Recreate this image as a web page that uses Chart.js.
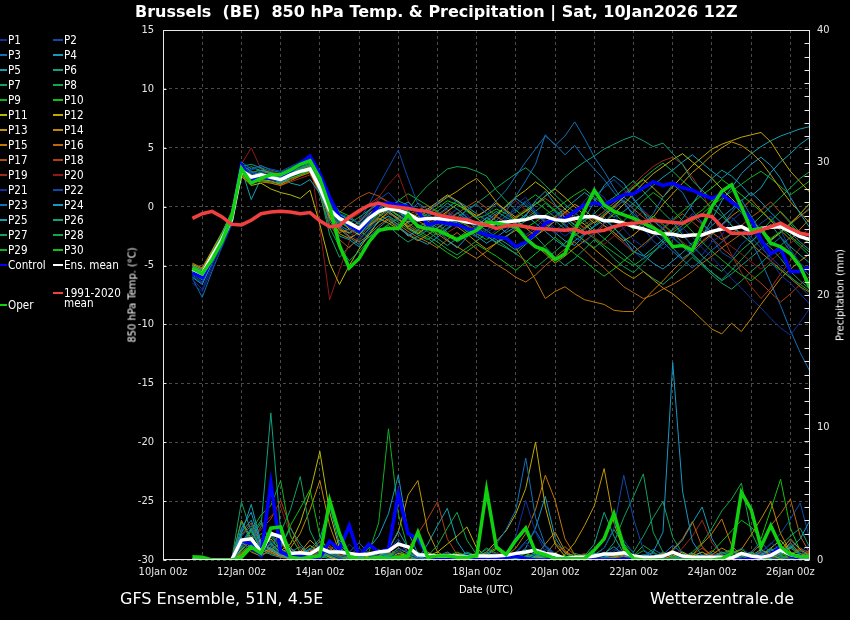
<!DOCTYPE html>
<html><head><meta charset="utf-8">
<script src="https://cdn.jsdelivr.net/npm/chart.js@4"></script>
<style>
html,body{margin:0;padding:0;background:#000;}
#wrap{position:relative;width:850px;height:620px;background:#000;overflow:hidden;font-family:'DejaVu Sans Condensed','DejaVu Sans',sans-serif;color:#fff;}
#c{position:absolute;left:0;top:0;}
.t{position:absolute;white-space:nowrap;line-height:1;}
.big{font-family:'DejaVu Sans',sans-serif;font-size:16px;}
.lg-line{position:absolute;width:10px;height:2px;}
.lg-text{position:absolute;font-size:11.6px;line-height:10px;white-space:nowrap;color:#fff;}
</style></head>
<body>
<div id="wrap">
<canvas id="c" width="850" height="620"></canvas>
<div class="t big" style="left:135px;top:4px;font-weight:bold;">Brussels&nbsp; (BE)&nbsp; 850 hPa Temp. &amp; Precipitation | Sat, 10Jan2026 12Z</div>
<div class="t" style="left:132px;top:295px;font-size:11px;transform:translate(-50%,-50%) rotate(-90deg);">850 hPa Temp. (°C)</div>
<div class="t" style="left:840px;top:295px;font-size:11px;transform:translate(-50%,-50%) rotate(-90deg);">Precipitation (mm)</div>
<div class="t" style="left:486px;top:589px;font-size:11px;transform:translate(-50%,-50%);">Date (UTC)</div>
<div class="t big" style="left:120px;top:599px;transform:translate(0,-50%);">GFS Ensemble, 51N, 4.5E</div>
<div class="t big" style="left:794px;top:599px;transform:translate(-100%,-50%);">Wetterzentrale.de</div>
<div id="legend"></div>
</div>
<script>
// ---- time axis (hours after 10Jan2026 00z) ----
const hours = [18,24,30,36,42,48,54,60,66,72,78,84,90,96,102,108,114,120,126,132,138,144,150,156,162,168,174,180,186,192,198,204,210,216,222,228,234,240,246,252,258,264,270,276,282,288,294,300,306,312,318,324,330,336,342,348,354,360,366,372,378,384,390,396];
const gridHours = [0,24,48,72,96,120,144,168,192,216,240,264,288,312,336,360,384];
const dateTickLabels = ['10Jan 00z','12Jan 00z','14Jan 00z','16Jan 00z','18Jan 00z','20Jan 00z','22Jan 00z','24Jan 00z','26Jan 00z'];
const tempTicks = [-30,-25,-20,-15,-10,-5,0,5,10,15];
const precipTicks = [0,10,20,30,40];

// ---- main temperature series (°C) ----
const meanTemp = [-5.3,-5.7,-4.2,-2.8,-1.1,3.1,2.5,2.7, 2.5,2.3,2.7,3.0,3.2,1.6,-0.3,-1.0, -1.4,-1.85,-1.0,-0.4,-0.15,-0.3,-0.6,-1.1, -1.0,-1.0,-1.1,-1.1,-1.3,-1.4,-1.55,-1.4, -1.3,-1.2,-1.1,-0.85,-0.85,-1.1,-1.2,-1.0, -0.85,-0.85,-1.2,-1.2,-1.4,-1.7,-1.9,-2.2, -2.3,-2.35,-2.5,-2.4,-2.4,-2.1,-1.9,-1.85, -1.7,-2.1,-1.85,-1.75,-1.7,-2.1,-2.55,-2.8];
const ctrlTemp = [-5.6,-6.0,-4.5,-3.0,-1.0,3.5,2.3,2.5, 2.4,2.3,3.0,3.7,4.3,2.8,0.8,-0.85, -1.55,-2.1,-1.1,0.15,0.3,0.15,0.0,-0.4, -1.55,-1.3,-1.4,-1.55,-1.85,-2.1,-2.4,-2.55, -2.7,-3.4,-3.0,-2.25,-1.4,-1.1,-1.0,-0.4, 0.15,0.3,0.15,0.55,1.0,1.1,1.6,2.1, 1.8,2.0,1.6,1.4,1.0,0.7,1.05,0.4, -0.15,-1.1,-2.8,-4.0,-3.55,-5.5,-5.5,-5.1];
const operTemp = [-5.25,-5.7,-4.5,-3.0,-0.9,3.25,2.0,2.4, 2.7,2.7,3.1,3.6,3.9,2.4,0.0,-3.3, -5.2,-4.4,-3.0,-2.0,-1.85,-1.85,-0.7,-1.7, -1.85,-2.0,-2.4,-2.8,-2.4,-2.0,-1.3,-1.4, -1.55,-1.7,-2.7,-3.4,-3.7,-4.5,-4.0,-2.0, -0.3,1.4,0.15,-0.4,-0.7,-1.0,-1.4,-1.8, -2.3,-3.4,-3.3,-3.7,-1.7,0.0,1.3,1.85, 0.0,-2.0,-1.85,-3.1,-3.4,-4.0,-5.1,-6.9];
const climTemp = [-1.0,-0.6,-0.4,-0.85,-1.5,-1.55,-1.15,-0.6, -0.45,-0.4,-0.45,-0.6,-0.5,-1.2,-1.7,-1.6, -0.9,-0.35,0.1,0.3,0.05,-0.05,-0.15,-0.3, -0.4,-0.7,-0.85,-1.0,-1.1,-1.4,-1.55,-1.85, -1.65,-1.55,-1.7,-1.85,-1.9,-1.95,-2.0,-1.9, -2.25,-2.1,-2.0,-1.7,-1.5,-1.4,-1.3,-1.15, -1.25,-1.35,-1.4,-1.0,-0.7,-0.85,-1.7,-2.25, -2.25,-2.25,-2.0,-1.7,-1.4,-1.85,-2.25,-2.4];

// ---- main precipitation series (mm) ----
const ctrlPrecip = [0,0,0,0,0,1.5,1.2,0.4, 5.8,0.6,0.3,0.4,0.1,0.2,1.4,0.8, 2.6,0.3,1.2,0.6,0.8,5.0,2.0,1.6, 0.3,0.1,0.2,0.1,0.3,0.1,0,0.1, 0.2,0.3,0.1,0,0,0.1,0,0, 0,0,0,0,0.1,0,0,0, 0,0,0,0,0,0,0,0, 0,0.1,0.2,0.4,1.0,0.3,0.1,0];
const operPrecip = [0.25,0.2,0,0,0,0.2,1.0,0.5, 2.4,2.5,0.2,0.1,0.2,0.3,4.5,2.0, 0.25,0.1,0.1,0.2,0.1,0.2,0.3,2.1, 0.2,0.3,0.3,0.2,0.2,0.3,5.3,1.0, 0.4,1.5,2.4,0.6,0.4,0.1,0.1,0.1, 0.1,0.75,1.6,3.5,1.0,0.1,0,0, 0,0,0,0,0,0,0.1,0.5, 5.1,3.8,1.0,2.6,1.0,0.4,0.25,0.25];
const meanPrecip = [0,0,0,0,0,1.5,1.6,0.6, 2.0,1.75,0.5,0.55,0.45,0.9,0.6,0.6, 0.5,0.4,0.45,0.6,0.7,1.2,1.0,0.4, 0.35,0.3,0.3,0.3,0.25,0.3,0.3,0.3, 0.35,0.5,0.6,0.75,0.5,0.4,0.1,0.2, 0.2,0.3,0.45,0.45,0.55,0.3,0.2,0.2, 0.3,0.6,0.3,0.2,0.2,0.2,0.2,0.15, 0.5,0.3,0.2,0.35,0.75,0.4,0.25,0.25];

// ---- ensemble member temperatures (°C) ----
const tP01 = [-6.2,-7.0,-5.0,-3.2,-1.5,3.6,2.8,3.0, 2.6,2.2,3.0,3.4,3.8,2.5,0.5,-0.8, -1.8,-2.6,-1.5,-0.2,0.4,-0.5,-1.2,-0.9, -1.5,-2.2,-1.8,-1.0,-0.6,-1.9,-2.6,-2.0, -1.1,0.2,0.8,-0.4,-1.5,-2.3,-1.8,-0.7, 0.5,1.4,0.8,-0.6,-1.9,-2.8,-3.4,-2.6, -1.8,-0.9,-2.2,-3.5,-4.1,-3.0,-2.4,-1.2, -0.5,-1.8,-3.2,-4.6,-5.8,-6.5,-7.4,-8.3];
const tP02 = [-5.8,-6.4,-4.6,-2.9,-0.8,3.3,2.9,2.4, 2.8,2.5,3.2,3.6,4.0,2.2,0.3,-0.6, -0.9,-1.4,-0.5,0.6,1.2,0.3,-0.8,-1.3, -0.7,0.4,-0.3,-1.2,-0.9,-1.5,-0.6,0.2, -0.5,-1.6,-2.4,-1.8,-0.9,-0.4,-1.5,-2.6, -3.1,-2.2,-1.4,-0.3,0.6,-0.2,-1.8,-2.9, -3.6,-2.8,-1.5,-0.6,-1.3,-2.7,-3.9,-4.4, -3.2,-2.5,-1.4,-0.8,-2.0,-3.6,-4.8,-5.5];
const tP03 = [-5.5,-6.0,-4.4,-3.0,-1.2,3.8,3.2,3.5, 3.1,2.9,3.3,3.7,4.2,2.0,-0.4,-1.6, -2.0,-1.6,-0.7,-0.1,-0.4,-1.2,-0.5,0.3, -0.2,-0.8,-1.6,-1.1,-0.3,0.2,-0.6,-1.2, -0.4,0.9,2.2,3.6,6.1,5.2,6.0,7.2, 5.8,4.2,3.0,1.6,0.4,-0.8,-1.5,-0.6, 0.8,1.9,1.2,-0.3,-1.4,-2.2,-1.6,-0.5, 0.6,-0.8,-2.1,-3.3,-2.6,-3.8,-5.0,-5.9];
const tP04 = [-6.0,-6.6,-4.8,-3.3,-1.4,3.5,3.0,2.6, 2.4,2.0,2.5,2.9,3.3,1.4,-1.2,-2.5, -2.8,-3.4,-2.2,-1.3,-0.8,-1.6,-2.5,-2.0, -1.4,-2.0,-2.8,-3.5,-2.6,-1.8,-0.9,-1.5, -2.2,-1.7,-0.8,0.5,1.3,0.2,-0.9,-1.6, -1.0,0.4,1.8,2.6,2.0,0.7,-0.5,-1.8, -2.6,-3.5,-4.4,-3.8,-2.5,-1.1,0.5,1.6, 2.8,3.6,4.2,3.5,2.4,0.8,-0.6,-1.8];
const tP05 = [-5.0,-5.4,-4.1,-2.5,-0.6,2.9,2.2,3.1, 2.9,2.6,2.0,1.8,2.3,1.1,-0.2,-0.7, -1.0,-1.4,-0.3,0.2,-0.5,-0.1,0.4,-0.4, -1.2,-1.8,-1.3,-0.5,-1.1,-1.9,-2.5,-3.0, -2.6,-1.8,-1.2,-0.6,-1.4,-2.2,-2.9,-3.3, -2.4,-1.6,-0.9,-1.8,-2.7,-3.8,-4.2,-3.5, -2.8,-1.9,-1.0,0.2,1.5,2.4,3.1,2.6, 1.8,0.9,1.6,2.9,3.8,4.5,5.3,5.9];
const tP06 = [-5.6,-6.2,-4.5,-2.6,-0.9,3.4,3.6,3.3, 2.7,2.4,2.9,3.2,3.5,1.9,0.2,-1.3, -1.6,-2.1,-1.8,-0.9,-0.3,0.5,0.1,-0.6, -0.8,-0.4,0.3,-0.2,-0.9,-1.5,-1.0,-0.4, -0.9,-1.4,-0.7,0.2,0.9,1.6,2.5,3.2, 3.8,4.3,4.9,5.3,5.7,6.0,5.6,5.1, 5.4,4.5,3.6,2.2,1.4,0.6,-0.5,-1.6, -2.4,-3.0,-2.2,-1.5,-2.6,-3.4,-4.1,-4.8];
const tP07 = [-5.2,-5.9,-4.3,-2.7,-1.0,3.0,2.6,2.9, 2.5,2.3,2.9,3.3,3.6,1.0,-1.8,-3.4, -4.6,-3.8,-2.9,-2.2,-1.6,-2.4,-3.0,-2.5, -2.0,-1.4,-2.2,-3.0,-2.5,-1.7,-2.4,-3.1, -3.5,-4.0,-3.2,-2.5,-3.4,-4.3,-5.0,-4.4, -3.6,-2.8,-3.5,-4.4,-5.1,-5.6,-4.8,-3.9, -3.0,-2.2,-3.1,-4.0,-4.8,-5.6,-6.2,-5.4, -4.5,-3.6,-2.8,-3.5,-4.4,-5.5,-6.3,-7.0];
const tP08 = [-5.4,-5.8,-4.0,-2.4,-0.7,3.2,2.1,2.5, 2.3,2.1,2.6,2.8,3.1,1.6,-0.5,-1.4, -1.7,-2.3,-1.5,-0.6,-0.2,-0.8,-0.3,0.9, 1.8,2.5,3.2,3.4,3.3,3.0,2.6,1.4, 0.5,-0.3,-1.0,-0.4,0.3,-0.4,-1.1,-1.8, -1.2,-0.6,0.2,0.8,1.5,2.2,1.3,0.4, -0.5,-1.3,-2.4,-3.3,-4.2,-4.9,-5.5,-4.6, -3.7,-3.0,-2.1,-1.2,-0.4,-1.3,-2.2,-3.0];
const tP09 = [-5.1,-5.5,-3.9,-2.3,-0.4,3.1,2.4,2.6, 2.6,2.5,3.0,3.5,3.9,2.3,0.4,-0.9, -1.3,-1.9,-1.2,-0.5,0.2,-0.3,-0.9,-1.5, -1.9,-2.4,-1.8,-1.2,-1.6,-2.3,-2.8,-2.2, -1.6,-1.0,-0.3,0.4,-0.2,-0.9,-1.6,-2.3, -2.9,-3.5,-2.8,-2.0,-1.2,-0.4,0.5,1.2, 0.6,-0.3,-1.2,-2.1,-3.0,-3.8,-4.5,-5.2, -5.8,-6.3,-5.6,-4.8,-5.4,-6.0,-6.6,-7.2];
const tP10 = [-5.7,-6.1,-4.6,-3.1,-1.3,2.8,2.0,2.2, 2.1,2.0,2.4,2.7,3.0,1.8,0.6,-0.4, -0.8,-1.5,-0.9,-0.2,0.4,0.0,-0.4,-1.0, -0.6,-0.1,0.5,0.2,-0.4,-1.0,-0.7,-0.2, -0.6,-1.2,-1.8,-1.3,-0.7,-0.2,0.4,1.0, 1.5,0.8,0.1,-0.6,-1.3,-1.9,-1.4,-0.8, -1.5,-2.2,-1.6,-0.9,-0.3,0.5,1.2,0.4, -0.5,-1.3,-2.0,-2.7,-2.1,-1.5,-2.4,-3.2];
const tP11 = [-5.3,-5.9,-4.3,-2.7,-1.0,2.6,1.8,2.0, 1.5,1.2,1.0,0.7,1.4,-1.5,-4.8,-6.6, -5.0,-3.6,-2.4,-1.2,-0.4,-1.0,-1.8,-2.3, -1.7,-1.0,-0.4,0.2,-0.3,-1.0,-1.6,-0.8, 0.1,0.8,1.4,2.1,1.5,0.6,-0.2,-0.9, -1.5,-2.2,-1.4,-0.6,0.2,1.1,2.0,2.8, 3.4,4.0,4.5,3.8,3.1,2.4,1.5,0.7, -0.2,-1.1,-2.0,-2.8,-2.2,-1.4,-0.6,0.3];
const tP12 = [-4.9,-5.3,-3.8,-2.3,-0.5,3.0,2.3,2.8, 2.4,2.2,2.6,3.0,3.4,2.1,0.1,-1.2, -1.9,-2.4,-1.6,-1.0,-1.4,-1.9,-1.3,-0.6, -0.2,0.4,1.0,0.5,-0.2,-0.8,-0.3,0.3, -0.3,-0.9,-0.4,0.2,0.9,1.5,0.8,0.0, -0.7,-1.4,-0.8,0.0,0.8,1.6,2.3,1.6, 0.8,1.7,2.6,3.5,4.2,4.9,5.3,5.6, 5.9,6.1,6.3,5.5,4.2,3.0,2.1,1.2];
const tP13 = [-5.2,-5.7,-4.1,-2.6,-0.9,3.3,2.7,2.3, 2.2,1.9,2.4,2.7,3.1,1.3,-0.9,-2.3, -2.7,-2.2,-1.6,-0.8,-0.2,-0.7,-1.3,-0.9, -0.4,0.2,0.8,1.3,1.9,2.4,1.5,0.4, -0.4,-1.1,-1.8,-2.5,-1.9,-1.2,-0.5,0.2, -0.3,-1.0,-1.6,-2.2,-2.9,-2.4,-1.7,-0.9, 0.2,1.1,2.0,2.9,3.6,4.4,5.0,5.5, 5.2,4.6,3.8,2.7,1.5,0.4,-0.5,-1.4];
const tP14 = [-4.8,-5.2,-3.7,-2.2,-0.6,2.7,2.0,2.4, 2.3,2.4,2.8,3.1,3.3,1.5,-0.8,-2.0, -2.2,-1.7,-1.0,-0.6,-1.2,-1.8,-2.4,-2.9, -2.4,-1.8,-1.2,-1.7,-2.3,-3.0,-3.6,-3.1, -2.5,-2.0,-2.6,-3.3,-4.0,-4.8,-4.2,-3.5, -2.9,-3.6,-4.3,-5.0,-5.6,-6.1,-5.5,-6.2, -6.9,-7.4,-8.1,-8.8,-9.6,-10.4,-10.8,-9.9, -10.6,-9.5,-8.3,-7.2,-6.1,-5.3,-4.6,-4.0];
const tP15 = [-5.0,-5.5,-4.0,-2.5,-0.8,2.9,2.4,2.1, 2.0,1.8,2.2,2.6,2.9,1.2,-1.0,-2.2, -1.9,-1.3,-0.6,0.0,-0.5,-1.1,-1.7,-1.2, -1.7,-2.3,-2.9,-3.4,-3.9,-4.4,-3.8,-3.1, -2.6,-3.5,-4.8,-6.2,-7.8,-7.2,-6.8,-7.4, -7.9,-8.1,-8.3,-8.8,-8.9,-8.9,-8.0,-7.1, -6.3,-5.4,-4.6,-3.8,-3.0,-2.3,-1.5,-0.8, -0.2,0.6,-0.3,-1.2,-2.0,-2.8,-1.9,-1.0];
const tP16 = [-5.4,-5.8,-4.2,-2.8,-1.1,3.1,2.6,3.0, 2.8,2.5,2.8,3.2,3.5,1.7,-0.5,-1.8, -2.5,-3.0,-2.4,-1.6,-1.0,-1.5,-2.1,-2.6, -3.0,-3.5,-2.8,-2.2,-2.9,-3.6,-4.3,-4.9, -5.4,-6.0,-6.4,-5.8,-5.0,-4.3,-3.6,-3.0, -3.7,-4.5,-5.2,-6.0,-6.8,-7.3,-7.8,-7.5, -7.0,-6.6,-6.1,-5.5,-4.8,-4.2,-3.5,-2.9, -2.3,-3.1,-3.9,-4.6,-5.3,-6.1,-6.8,-7.3];
const tP17 = [-5.1,-5.6,-4.0,-2.4,-0.7,2.8,2.2,2.6, 2.5,2.3,2.7,3.0,3.2,1.9,0.2,-0.5, 0.2,0.8,1.2,0.9,0.4,-0.2,-0.7,-0.3, 0.1,-0.5,-1.1,-0.6,0.0,0.5,-0.1,-0.8, -1.4,-1.0,-0.4,0.2,0.7,0.1,-0.5,-1.2, -1.8,-1.3,-0.7,-0.1,0.5,-0.2,-0.9,-1.6, -2.3,-2.0,-1.4,-0.8,-1.5,-2.2,-2.8,-2.3, -1.6,-0.9,-0.3,0.4,-0.5,-1.4,-0.8,-0.2];
const tP18 = [-5.5,-6.1,-4.5,-3.0,-1.3,2.9,2.5,2.3, 2.1,1.9,2.3,2.6,2.9,1.0,-1.5,-2.8, -3.5,-2.6,-1.7,-1.1,-0.6,-1.0,-1.6,-2.1, -1.8,-1.2,-0.5,-1.0,-1.6,-2.1,-1.5,-0.9, -1.3,-1.9,-2.6,-2.0,-1.4,-0.8,-1.5,-2.2, -2.9,-2.3,-1.6,-2.4,-3.1,-3.9,-3.2,-2.5, -1.9,-1.2,-0.6,-1.3,-2.0,-2.7,-3.5,-4.2, -5.0,-5.8,-6.5,-7.3,-8.1,-7.4,-6.6,-5.9];
const tP19 = [-5.3,-5.9,-4.4,-2.9,-1.2,2.5,2.0,2.2, 2.0,1.8,2.1,2.4,2.7,1.4,-0.7,-1.5, -1.1,-0.6,0.2,0.8,0.4,-0.3,-0.9,-0.5, -1.0,-1.6,-2.2,-1.7,-1.1,-0.6,-1.2,-1.9, -1.4,-0.8,-0.2,-0.7,-1.3,-0.9,-0.4,-1.0, -1.5,-1.0,-0.4,0.3,1.1,1.9,2.7,3.4, 3.9,4.2,3.6,2.5,1.2,-0.6,-2.4,-4.1, -5.6,-6.8,-7.8,-6.9,-5.7,-4.6,-3.5,-2.6];
const tP20 = [-5.0,-5.4,-3.9,-2.3,-0.5,3.6,5.0,3.2, 3.0,2.8,3.1,3.4,4.2,-1.8,-7.9,-5.4, -3.0,-1.2,-0.4,0.8,1.9,2.8,0.5,-0.7, -1.3,-0.8,-0.2,-0.9,-1.5,-2.0,-1.4,-0.7, -0.2,0.5,-0.3,-1.0,-1.7,-1.2,-0.6,-1.3, -1.9,-2.6,-3.2,-2.5,-1.8,-1.1,-0.4,-1.0, -1.6,-2.3,-3.0,-3.6,-2.9,-2.2,-2.8,-3.4, -4.0,-4.7,-5.3,-4.6,-3.9,-3.1,-2.5,-1.8];
const tP21 = [-6.5,-7.2,-5.3,-3.5,-1.6,3.4,2.7,2.9, 2.6,2.4,2.8,3.1,3.4,1.8,-0.4,-1.5, -2.2,-2.9,-2.0,-1.1,-0.5,-1.0,-1.7,-2.3, -1.9,-1.2,-0.6,-1.3,-2.0,-2.6,-2.0,-1.4, -0.8,-0.2,0.5,-0.3,-1.1,-1.8,-2.5,-1.9, -1.2,-0.5,-1.3,-2.2,-3.0,-3.8,-4.5,-3.9, -3.2,-2.5,-1.8,-2.6,-3.5,-4.3,-5.2,-6.1, -6.9,-7.8,-8.6,-9.5,-10.3,-10.9,-9.8,-8.6];
const tP22 = [-5.9,-6.5,-4.8,-3.1,-1.2,3.6,3.1,3.4, 3.2,3.0,3.4,3.8,4.1,2.4,0.1,-1.2, -1.8,-1.2,0.2,1.8,3.3,4.8,2.4,0.2, -0.6,-1.3,-0.8,-0.2,-0.9,-1.6,-2.2,-1.7, -1.0,-0.4,0.3,-0.5,-1.2,-2.0,-1.4,-0.7, 0.1,0.9,1.6,2.3,1.5,0.6,-0.3,-1.1, -1.8,-2.6,-3.3,-4.0,-3.2,-2.4,-1.6,-0.9, -1.7,-2.6,-3.5,-4.3,-5.1,-5.9,-6.8,-7.6];
const tP23 = [-6.1,-7.7,-5.5,-3.4,-1.4,3.3,2.6,2.8, 2.7,2.5,2.9,3.3,3.6,2.0,-0.2,-1.3, -1.6,-2.2,-1.4,-0.6,-0.1,-0.8,-1.4,-0.8, -0.3,0.3,0.9,0.4,-0.3,-0.9,-0.3,0.5, 1.4,2.6,3.8,4.9,6.0,5.3,4.4,5.2, 4.1,3.2,2.3,1.2,0.3,-0.6,-1.4,-2.2, -3.0,-3.8,-4.5,-5.2,-4.5,-3.7,-3.0,-2.3, -1.6,-2.9,-4.6,-6.5,-8.4,-10.5,-12.4,-14.0];
const tP24 = [-5.6,-6.0,-4.4,-2.8,-1.0,3.4,2.8,2.6, 2.4,2.2,2.6,2.9,3.2,1.6,-0.3,-1.9, -2.6,-3.2,-2.6,-1.8,-1.1,-1.7,-2.3,-2.8, -3.2,-2.6,-1.9,-1.3,-1.9,-2.5,-3.1,-2.6, -2.0,-1.3,-0.7,-1.4,-2.1,-2.8,-3.4,-2.9, -2.3,-1.7,-1.1,-1.8,-2.6,-3.3,-4.1,-4.8, -5.3,-4.6,-3.9,-3.1,-2.4,-1.6,-0.9,-0.2, 0.5,1.2,0.4,-0.5,-1.3,-2.2,-3.0,-3.7];
const tP25 = [-5.4,-5.9,-4.3,-2.7,-0.9,3.2,0.6,2.4, 2.6,2.4,2.7,3.1,3.4,1.9,-0.1,-1.0, -1.5,-2.1,-1.3,-0.5,0.1,-0.5,-1.1,-1.7, -1.3,-0.7,-0.1,0.5,0.0,-0.6,-1.2,-0.6, 0.0,0.7,0.1,-0.6,-1.3,-0.8,-0.2,0.5, 1.2,0.6,-0.2,-0.9,-0.4,0.3,1.0,1.8, 2.5,3.1,3.8,4.4,3.7,3.0,2.4,3.1, 3.8,4.5,5.1,5.6,6.0,6.3,6.6,6.8];
const tP26 = [-5.7,-6.2,-4.6,-3.0,-1.2,3.0,2.5,2.7, 2.4,2.3,2.7,3.1,3.3,1.5,-0.6,-1.7, -2.3,-1.8,-1.1,-0.5,0.1,-0.4,-1.0,-1.6, -2.1,-2.7,-3.3,-2.7,-2.1,-1.5,-2.0,-2.6, -3.1,-3.7,-3.1,-2.4,-1.8,-1.2,-1.9,-2.5, -1.9,-1.3,-0.6,0.1,0.8,0.2,-0.5,-1.2, -1.9,-2.6,-3.4,-4.1,-4.9,-5.6,-6.3,-5.7, -5.0,-4.3,-3.6,-2.9,-2.2,-1.5,-0.8,-0.1];
const tP27 = [-5.3,-5.8,-4.2,-2.6,-0.8,3.1,2.7,3.3, 3.0,2.7,3.1,3.5,3.8,1.2,-2.4,-4.3, -3.4,-2.8,-1.9,-1.3,-0.8,-1.3,-1.9,-2.4, -2.8,-2.2,-1.5,-0.9,-0.3,0.3,0.9,1.6, 2.2,2.8,3.3,2.6,1.8,1.0,0.2,-0.5, -1.2,-2.0,-2.7,-3.4,-4.1,-4.8,-5.5,-6.1, -6.6,-5.9,-5.1,-4.3,-5.0,-5.8,-6.5,-7.0, -6.3,-5.5,-4.8,-4.0,-3.3,-2.6,-3.4,-4.2];
const tP28 = [-5.5,-6.0,-4.5,-2.9,-1.1,3.0,3.4,3.0, 2.8,2.6,3.0,3.3,3.6,1.8,-0.1,-1.1, -1.4,-0.9,-0.3,0.3,-0.2,-0.8,-1.4,-2.0, -2.5,-3.0,-3.6,-4.1,-3.5,-2.9,-2.3,-2.8, -3.4,-4.0,-4.6,-5.2,-4.5,-3.8,-3.1,-2.4, -1.8,-1.1,-0.4,0.3,1.0,1.7,2.4,3.1, 3.7,3.0,2.2,1.5,0.7,-0.1,-0.8,-1.6, -2.3,-1.6,-0.8,0.0,0.8,1.6,2.4,3.0];
const tP29 = [-5.0,-5.5,-3.9,-2.3,-0.6,3.1,2.4,2.7, 2.5,2.3,2.8,3.2,3.4,2.0,0.6,-0.6, -1.2,-1.8,-1.2,-0.6,-0.1,0.5,1.1,0.6, 0.1,-0.4,-1.0,-1.5,-2.1,-2.6,-2.0,-1.4, -0.8,-0.2,0.4,1.0,0.4,-0.3,-0.9,-1.5, -2.1,-2.7,-3.3,-3.9,-4.5,-5.0,-4.4,-3.8, -3.2,-2.5,-1.9,-1.2,-0.6,0.1,0.7,1.3, 1.9,2.5,3.0,2.4,1.7,1.0,1.6,2.2];
const tP30 = [-5.6,-6.1,-4.6,-3.0,-1.2,3.3,2.9,3.1, 2.9,2.7,3.1,3.4,3.7,2.2,0.1,-1.0, -1.5,-2.0,-2.6,-2.1,-1.5,-1.0,-1.6,-2.2, -2.7,-3.3,-3.9,-4.4,-3.8,-3.2,-3.7,-4.2, -4.8,-5.4,-4.7,-4.0,-3.3,-2.6,-3.3,-4.0, -4.6,-5.3,-5.9,-5.3,-4.6,-3.9,-3.2,-2.5, -1.8,-1.1,-0.4,0.3,1.0,1.6,2.3,1.7, 1.0,0.3,-0.4,-1.1,-1.8,-2.5,-3.2,-3.9];

// ---- ensemble member precipitation (mm) ----
const rP01 = [0,0,0,0,0,1.2,0.8,0.3, 1.5,0.6,0.2,0,0.3,0.8,0.4,0.1, 0,0.2,0.5,0.3,0.1,0.6,1.1,0.4, 0.1,0,0,0.2,0.4,0.1,0,0.3, 0.5,1.8,4.5,2.1,0.6,0.2,0,0, 0,0.1,0.3,0.8,0.5,0.2,0,0, 0,0,0.2,0.1,0,0,0.3,0.6, 0.2,0,0.5,1.3,0.8,0.2,0.4,0.9];
const rP02 = [0,0,0,0,0,0.9,1.5,0.6, 2.2,0.8,0.3,0.1,0.5,1.2,0.6,0.2, 0.4,0.9,0.3,0.1,0,0.2,0.4,0.1, 0,0.1,0.3,0.2,0,0,0.2,0.5, 0.2,0,0,0.4,1.1,0.5,0.1,0, 0,0.3,0.9,2.4,6.4,3.1,0.8,0.2, 0,0.1,0,0,0.2,0.5,0.1,0, 0,0.3,0.7,0.2,0,0.1,0.6,1.2];
const rP03 = [0,0,0,0,0,1.8,2.6,0.9, 1.2,0.5,0.2,0.4,0.9,0.3,0.6,1.0, 0.3,0.1,0,0.2,0.5,1.4,0.6,0.2, 0,0,0.1,0.3,0.1,0,0.4,1.2, 2.3,3.8,7.7,3.2,1.1,0.4,0.1,0, 0,0,0.2,0.1,0,0,0.3,0.5, 0.2,0,0,0.1,0.4,0.2,0,0, 0.1,0.6,1.4,0.5,0.2,0,0,0.3];
const rP04 = [0,0,0,0,0,2.4,3.6,1.1, 0.8,0.4,0.9,0.3,0.1,0.5,1.3,0.6, 0.2,0,0.1,0.3,0.8,2.2,0.9,0.3, 0.1,0,0,0.2,0.5,0.3,0.1,0, 0,0.3,0.8,0.4,0.1,0,0,0.1, 0.2,0.5,0.3,0.1,0,0,0.2,0.6, 2.1,14.9,5.2,1.4,0.3,0,0.1,0, 0,0.2,0.5,0.1,0,0,0.2,0.4];
const rP05 = [0,0,0,0,0,2.0,4.2,1.3, 0.9,0.3,0.1,0.5,0.8,1.6,4.1,1.2, 0.4,0.1,0,0.2,0.3,0.9,0.5,0.2, 0.1,0.3,0.6,0.2,0,0,0.1,0.4, 0.3,0.1,0,0.2,0.6,0.3,0,0, 0,0.2,0.5,1.0,0.4,0.1,0,0, 0,0.1,0.3,0.2,0,0.2,0.6,0.3, 0.1,0,0.3,0.8,0.4,0.9,1.6,3.0];
const rP06 = [0,0,0,0,0,1.1,2.3,0.7, 1.9,1.0,2.4,1.2,0.4,0.2,0.5,0.3, 0.1,0,0.2,0.5,0.3,0.1,0,0.2, 0.4,0.2,0,0,0.1,0.3,0.6,0.2, 0,0,0.2,0.4,0.1,0,0,0.1, 0.3,1.2,3.6,1.8,0.5,0.1,0,0, 0,0,0.2,0.5,0.3,0.1,0,0, 0.2,0.6,0.3,0.1,0.5,1.1,0.4,0.2];
const rP07 = [0,0,0,0,0,2.9,1.4,0.6, 1.0,2.1,3.8,6.3,2.2,0.7,0.3,0.1, 0,0.2,0.4,0.2,0,0,0.3,0.6, 0.2,0,0,0.1,0.2,0.4,0.1,0, 0,0.1,0.3,0.1,0,0,0.2,0.5, 0.3,0.1,0.4,1.3,3.2,4.8,6.5,2.1, 0.6,0.2,0,0,0.1,0.3,0.1,0, 0,0.1,0.4,0.9,0.3,0.1,0,0.2];
const rP08 = [0,0,0,0,0,0.7,1.6,2.8, 1.3,0.5,0.2,0.1,0.4,0.9,0.3,0.1, 0,0,0.1,0.3,0.6,0.2,0,0, 0.3,1.1,2.4,3.6,1.5,0.4,0.1,0, 0,0.2,0.5,0.2,0,0,0.1,0.3, 0.1,0,0,0.2,0.6,0.3,0.1,0, 0,0,0.3,0.1,0,0.2,0.5,0.8, 0.3,0.1,0,0.4,1.0,0.5,0.2,0.1];
const rP09 = [0,0,0,0,0,1.0,2.2,3.4, 4.1,6.0,1.8,0.6,0.3,0.1,0.4,0.8, 0.5,0.2,0,0.1,0.3,0.7,0.3,0.1, 0,0.2,0.1,0,0,0.3,0.9,0.5, 0.2,0,0.1,0.4,0.2,0,0,0, 0.1,0.4,0.2,0,0,0.3,1.1,0.6, 0.2,0,0,0.1,0.3,0.1,0,0, 0.2,0.5,0.2,0,0.1,0.4,0.7,0.3];
const rP10 = [0,0,0,0,0,0.6,1.2,2.0, 1.4,0.9,2.6,3.9,5.3,1.8,0.5,0.2, 0.1,0,0,0.2,0.4,0.2,0.1,0, 0,0.1,0.3,0.6,0.3,0.1,0,0, 0.1,0.4,0.2,0,0,0.1,0.3,0.1, 0,0,0.2,0.5,0.2,0.1,0,0, 0,0.2,0.4,0.2,0,0,0.1,0.4, 0.8,0.3,0.1,0,0.3,0.6,0.2,0.1];
const rP11 = [0,0,0,0,0,0.4,1.1,0.8, 1.6,0.7,1.2,2.8,5.1,8.2,3.6,0.9, 0.3,0.1,0,0,0.2,0.5,0.3,0.1, 0.3,0.6,1.2,1.8,2.5,0.9,0.2,0, 0,0,0.1,0.3,0.1,0,0,0.2, 0.4,0.2,0,0,0.1,0.3,0.2,0, 0,0,0.1,0.3,0.6,0.2,0,0, 0.1,0.3,0.8,0.4,0.1,0,0.2,0.5];
const rP12 = [0,0,0,0,0,0.3,0.9,1.5, 0.7,0.3,0.1,0.5,1.1,0.6,0.2,0, 0,0.1,0.3,0.6,0.2,0,0,0.1, 0.2,0.4,0.1,0,0,0.2,0.6,1.4, 2.2,3.5,5.4,8.9,4.0,1.2,0.3,0.1, 0,0,0.1,0.2,0.5,0.3,0,0, 0.1,0.3,0.6,0.2,0,0,0.1,0.4, 0.2,0,0.3,0.9,1.5,0.6,0.2,0];
const rP13 = [0,0,0,0,0,0.8,1.7,0.5, 0.9,0.4,0.2,0.6,1.5,0.8,0.3,0.1, 0,0.2,0.5,0.3,0.8,2.1,4.9,6.0, 2.2,0.6,0.2,0,0.1,0.3,0.2,0, 0,0.1,0.3,0.2,0,0,0.4,1.3, 2.6,4.1,6.9,2.8,0.7,0.2,0,0, 0,0.1,0.2,0.5,0.2,0,0,0.1, 0.3,0.6,0.2,0.1,0.7,1.6,0.8,0.3];
const rP14 = [0,0,0,0,0,3.0,1.6,0.7, 1.2,0.6,0.9,2.0,3.8,6.0,2.6,0.6, 0.2,0,0.1,0.3,0.5,0.2,0,0, 0.1,0.3,0.2,0,0,0.2,0.5,0.9, 0.4,0.1,0,0.3,1.2,2.1,0.7,0.2, 0,0,0.2,0.5,0.3,0.1,0,0.1, 0.3,0.6,0.2,0,0.1,0.4,0.9,0.5, 0.8,1.9,3.1,4.4,2.0,0.6,0.2,0.1];
const rP15 = [0,0,0,0,0,1.4,0.6,0.3, 0.8,1.3,0.5,0.2,0.6,1.4,0.9,0.3, 0.1,0,0,0.2,0.4,0.1,0,0.3, 0.6,0.2,0,0.1,0.3,0.5,0.2,0.1, 0.3,0.9,2.0,3.8,6.4,4.5,1.6,0.4, 0.1,0,0,0.2,0.1,0,0,0.2, 0.5,0.2,0,0.4,1.2,2.0,3.1,1.1, 0.3,0.1,0,0.2,0.6,1.3,0.5,0.2];
const rP16 = [0,0,0,0,0,0.5,1.3,0.9, 0.6,0.2,0.1,0.3,0.7,1.0,0.4,0.1, 0,0.1,0.3,0.2,0,0,0.2,0.5, 0.2,0,0.1,0.4,0.2,0,0,0.1, 0.3,0.5,0.2,0.1,0.4,1.3,0.6,0.2, 0,0.2,0.5,0.3,0.1,0,0,0, 0.2,0.8,1.6,2.9,1.0,0.3,0.1,0, 0.2,0.5,1.2,2.6,3.5,4.6,1.8,0.5];
const rP17 = [0,0,0,0,0,1.9,2.8,1.0, 0.5,0.3,0.8,0.4,0.2,0.6,1.1,0.4, 0.1,0,0.2,0.4,0.9,0.3,0.1,0, 0,0.2,0.5,0.3,0.1,0,0.1,0.3, 0.6,0.2,0,0,0.2,0.5,1.0,0.4, 0.1,0,0.1,0.3,0.2,0,0,0.1, 0.4,0.2,0.1,0,0.3,0.7,0.3,0.1, 0,0.2,0.6,0.3,0.1,0.4,0.9,0.5];
const rP18 = [0,0,0,0,0,0.7,1.5,2.3, 3.1,4.5,2.5,0.8,0.3,0.1,0.5,0.2, 0,0,0.1,0.2,0.6,0.3,0.9,2.0, 3.1,4.4,1.6,0.4,0.1,0,0,0.2, 0.4,0.1,0,0.1,0.3,0.2,0,0, 0,0.2,0.4,0.1,0,0,0.1,0.3, 0.1,0,0.2,0.4,0.9,0.3,0.1,0, 0,0.1,0.3,0.6,0.2,0.1,0.4,0.7];
const rP19 = [0,0,0,0,0,0.3,0.8,1.6, 2.0,1.2,0.4,0.1,0.3,0.7,0.2,0, 0,0.1,0.3,0.1,0,0.2,0.6,0.3, 0.1,0,0.2,0.5,0.3,0.1,0,0, 0.1,0.3,0.6,0.2,0,0,0.1,0.2, 0.5,0.2,0,0.1,0.4,0.2,0,0, 0,0.2,0.9,1.8,3.0,1.3,0.4,0.1, 0,0.2,0.5,0.2,0,0.3,0.8,0.4];
const rP20 = [0,0,0,0,0,0.5,1.2,2.6, 3.3,4.0,1.9,0.5,0.2,0.4,1.0,0.5, 0.2,0,0,0.1,0.4,0.8,0.3,0.1, 0,0.1,0.3,0.2,0,0,0.2,0.6, 0.3,0.1,0,0.2,0.5,0.2,0,0, 0,0.1,0.3,0.6,0.2,0.1,0,0, 0.2,0.5,0.2,0,0.1,0.3,0.6,0.2, 0.1,0,0.2,0.5,0.3,0.1,0,0.2];
const rP21 = [0,0,0,0,0,1.5,0.7,0.2, 0.9,2.0,0.6,0.2,0.1,0.4,0.8,0.3, 1.2,0.5,0.1,0,0.2,0.6,0.3,0.1, 0,0.2,0.4,0.1,0,0.1,0.3,0.2, 0.1,0.5,1.3,0.6,0.2,0,0,0.1, 0.2,0,0.1,0.4,0.9,0.3,0.1,0, 0,0.1,0.3,0.1,0,0,0.2,0.5, 0.9,0.4,0.1,0.3,0.8,1.5,0.7,0.2];
const rP22 = [0,0,0,0,0,1.1,1.9,0.5, 1.3,0.4,0.2,0.7,0.3,0.1,0.5,0.9, 0.4,0.1,0,0.3,0.7,1.6,0.5,0.2, 0,0,0.2,0.5,0.2,0,0.1,0.3, 0.2,0,0,0.3,0.8,0.4,0.1,0, 0,0.1,0.3,0.6,1.5,0.5,0.1,0, 0,0.2,0.6,0.3,0.1,0,0,0.2, 0.4,0.2,0.6,1.2,2.0,3.1,4.3,1.5];
const rP23 = [0,0,0,0,0,1.6,1.0,0.4, 0.7,0.3,0.1,0.2,0.6,0.3,0.1,0.2, 0.6,1.3,0.5,0.2,0,0.1,0.3,0.1, 0,0.2,0.1,0,0,0.3,0.8,0.4, 0.1,0.6,1.4,2.2,1.0,0.3,0.1,0, 0,0,0.2,0.1,0,0,0.3,0.8, 0.4,1.1,0.5,0.2,0,0.1,0.3,0.2, 0,0.1,0.4,0.2,0.6,1.2,0.5,0.1];
const rP24 = [0,0,0,0,0,2.1,3.0,1.2, 0.8,0.4,0.2,0.1,0.5,1.1,0.4,0.2, 0.1,0.3,0.9,1.8,3.5,6.4,2.1,0.5, 0.2,0,0,0.1,0.3,0.2,0,0, 0.1,0.3,0.9,2.4,4.8,1.7,0.5,0.2, 0,0.1,0.3,0.2,0,0,0.1,0.2, 0.6,0.3,0.1,0,0.2,0.5,0.2,0, 0,0.2,0.7,0.4,0.1,0,0.3,0.6];
const rP25 = [0,0,0,0,0,1.3,2.4,0.8, 0.4,0.2,0.6,1.0,0.4,0.2,0.7,1.5, 0.6,0.2,0,0.1,0.3,0.2,0,0.1, 1.2,2.6,3.9,1.4,0.3,0.1,0,0, 0.2,0.4,0.1,0,0.1,0.3,0.2,0, 0,0.2,0.6,0.3,0.1,0,0,0.1, 0.3,0.7,1.5,2.8,4.0,1.6,0.4,0.1, 0,0.3,0.6,0.2,0.4,1.0,0.5,0.2];
const rP26 = [0,0,0,0,0,0.8,1.4,2.5, 11.1,2.2,0.9,0.4,0.2,0.5,0.3,0.1, 0,0.1,0.4,0.2,0,0,0.2,0.4, 0.1,0,0.3,0.5,0.2,0,0,0.1, 0.3,0.1,0,0.2,0.4,0.1,0,0, 0.2,0.5,0.3,0.1,0,0.2,0.4,0.2, 0,0,0.1,0.3,0.2,0,0.2,0.6, 0.3,0.1,0.4,0.7,1.1,1.8,2.4,0.9];
const rP27 = [0,0,0,0,0,4.4,2.1,0.9, 0.5,0.3,0.1,0.4,0.8,0.3,0.1,0, 0.2,0.5,0.3,0.1,0,0.2,0.5,0.2, 0,0.1,0,0.2,0.6,0.3,0.1,0, 0,0.2,0.5,0.2,0,0,0.1,0.3, 0.1,0.4,0.9,2.3,1.2,0.6,1.8,3.2, 4.4,1.7,0.5,0.2,0,0.1,0.3,0.1, 0,0.1,0.2,0.5,0.3,0.1,0,0.2];
const rP28 = [0,0,0,0,0,0.9,1.8,3.0, 1.1,0.4,0.2,0.1,0.3,0.6,0.2,0, 0,0.2,0.4,0.8,0.3,0.1,0,0.1, 0.3,0.2,0,0,0.1,0.4,0.2,0, 0,0.1,0.3,0.5,0.2,0,0,0.1, 0.2,0.4,0.1,0,0,0.3,0.7,0.3, 0.1,0,0.2,0.6,1.3,2.4,3.7,4.6, 5.8,2.1,0.6,0.2,0.5,0.9,0.4,0.1];
const rP29 = [0,0,0,0,0,0.5,1.0,0.6, 1.8,0.9,0.3,0.2,0.4,0.9,0.6,0.3, 0.1,0,0.6,2.8,9.9,3.5,0.8,0.2, 0,0.1,0.2,0.4,0.1,0,0,0.2, 0.4,0.2,0,0,0.2,0.5,0.2,0, 0,0.1,0.3,0.6,0.3,0.1,0,0, 0.2,0.5,0.2,0,0,0.1,0.4,0.7, 0.3,0.1,0,0.2,0.5,0.2,0.1,0];
const rP30 = [0,0,0,0,0,1.7,0.9,0.4, 0.6,1.4,0.5,0.2,0.1,0.3,0.8,0.4, 0.2,0,0.1,0.3,0.6,0.2,0,0, 0.1,0.3,0.2,0,0,0.1,0.4,0.8, 0.3,0.1,0,0.2,0.4,0.2,0,0, 0.1,0,0.2,0.4,0.2,0,0,0.3, 0.5,0.2,0.1,0,0.2,0.6,1.4,2.2, 3.0,2.5,1.6,3.8,6.1,2.4,0.7,0.3];

const memberNames = ['P1','P2','P3','P4','P5','P6','P7','P8','P9','P10','P11','P12','P13','P14','P15','P16','P17','P18','P19','P20','P21','P22','P23','P24','P25','P26','P27','P28','P29','P30'];
const memberColors = ['#1030a0','#1048a8','#1070b8','#1898c0','#10a0b0','#10a080','#10a060','#10a848','#10b020','#10c010','#b8b800','#c0a800','#c09800','#c08800','#c07800','#b86810','#b05010','#b04010','#a02818','#901818'];
const tempMembers = [tP01,tP02,tP03,tP04,tP05,tP06,tP07,tP08,tP09,tP10,tP11,tP12,tP13,tP14,tP15,tP16,tP17,tP18,tP19,tP20,tP21,tP22,tP23,tP24,tP25,tP26,tP27,tP28,tP29,tP30];
const precipMembers = [rP01,rP02,rP03,rP04,rP05,rP06,rP07,rP08,rP09,rP10,rP11,rP12,rP13,rP14,rP15,rP16,rP17,rP18,rP19,rP20,rP21,rP22,rP23,rP24,rP25,rP26,rP27,rP28,rP29,rP30];

const C_CTRL = '#0000ff', C_MEAN = '#ffffff', C_OPER = '#10d010', C_CLIM = '#f04040';
const FONT = "'DejaVu Sans Condensed','DejaVu Sans',sans-serif";

// ---- legend (HTML text) ----
const legendEl = document.getElementById('legend');
function addLegend(x, y, color, text) {
  const ln = document.createElement('div');
  ln.className = 'lg-line'; ln.style.left = x + 'px'; ln.style.top = (y - 1) + 'px'; ln.style.background = color;
  legendEl.appendChild(ln);
  const tx = document.createElement('div');
  tx.className = 'lg-text'; tx.style.left = (x + 11) + 'px'; tx.style.top = (y - 5) + 'px'; tx.innerHTML = text;
  legendEl.appendChild(tx);
}
memberNames.forEach((n, i) => {
  const row = Math.floor(i / 2), col = i % 2;
  addLegend(col ? 53 : -3, 39.5 + 15 * row, memberColors[i % 20], n);
});
addLegend(-3, 264.5, C_CTRL, 'Control');
addLegend(53, 264.5, C_MEAN, 'Ens. mean');
addLegend(53, 292.5, C_CLIM, '1991-2020<br>mean');
addLegend(-3, 305, C_OPER, 'Oper');

// ---- datasets (first in list is drawn on top) ----
const pts = arr => hours.map((h, i) => ({x: h, y: arr[i]}));
function line(arr, color, width, axis, label) {
  return {label: label, data: pts(arr), borderColor: color, backgroundColor: color, borderWidth: width,
          yAxisID: axis, pointRadius: 0, tension: 0, fill: false};
}
const datasets = [
  line(climTemp, C_CLIM, 3.5, 'y', '1991-2020 mean'),
  line(operTemp, C_OPER, 3.5, 'y', 'Oper'),
  line(meanTemp, C_MEAN, 3.5, 'y', 'Ens. mean'),
  line(ctrlTemp, C_CTRL, 3.5, 'y', 'Control'),
  line(operPrecip, C_OPER, 3.5, 'y1', 'Oper precip'),
  line(meanPrecip, C_MEAN, 3.5, 'y1', 'Ens. mean precip'),
  line(ctrlPrecip, C_CTRL, 3.5, 'y1', 'Control precip')
];
tempMembers.forEach((a, i) => datasets.push(line(a, memberColors[i % 20], 1, 'y', memberNames[i])));
precipMembers.forEach((a, i) => datasets.push(line(a, memberColors[i % 20], 1, 'y1', memberNames[i] + ' precip')));

const frame = {
  id: 'frame',
  afterDraw(chart) {
    const {ctx, chartArea: a, scales} = chart;
    ctx.save();
    ctx.strokeStyle = '#e8e8e8'; ctx.lineWidth = 1; ctx.setLineDash([]);
    const L = Math.round(a.left) + 0.5, T = Math.round(a.top) + 0.5, R = Math.round(a.right) - 0.5, B = Math.round(a.bottom) - 0.5;
    ctx.strokeRect(L, T, R - L, B - T);
    ctx.beginPath();
    for (let v = 0; v <= 40; v++) {
      const y = Math.round(scales.y1.getPixelForValue(v)) + 0.5;
      ctx.moveTo(R - 5, y); ctx.lineTo(R, y);
    }
    tempTicks.forEach(v => {
      const y = Math.round(scales.y.getPixelForValue(v)) + 0.5;
      ctx.moveTo(L, y); ctx.lineTo(L + 3, y);
    });
    ctx.stroke();
    ctx.restore();
  }
};

new Chart(document.getElementById('c'), {
  type: 'line',
  data: {datasets},
  plugins: [frame],
  options: {
    responsive: false, animation: false, devicePixelRatio: 1,
    layout: {padding: {top: 30, left: 0, right: 0, bottom: 0}},
    plugins: {legend: {display: false}, tooltip: {enabled: false}, title: {display: false}},
    scales: {
      x: {
        type: 'linear', min: 0, max: 396,
        afterBuildTicks: s => { s.ticks = gridHours.map(v => ({value: v})); },
        afterFit: s => { s.height = 60; },
        ticks: {autoSkip: false, maxRotation: 0, color: '#e6e6e6', padding: 6, font: {family: FONT, size: 11},
                callback: v => (v % 48 === 0 ? dateTickLabels[v / 48] : '')},
        grid: {color: '#4a4a4a', lineWidth: 1, drawTicks: false},
        border: {display: false, dash: [3, 3]}
      },
      y: {
        position: 'left', min: -30, max: 15,
        afterBuildTicks: s => { s.ticks = tempTicks.map(v => ({value: v})); },
        afterFit: s => { s.width = 163; },
        ticks: {color: '#e6e6e6', padding: 9, font: {family: FONT, size: 11}},
        grid: {color: '#4a4a4a', lineWidth: 1, drawTicks: false},
        border: {display: false, dash: [3, 3]}
      },
      y1: {
        position: 'right', min: 0, max: 40,
        afterBuildTicks: s => { s.ticks = precipTicks.map(v => ({value: v})); },
        afterFit: s => { s.width = 40; },
        ticks: {color: '#e6e6e6', padding: 7, font: {family: FONT, size: 11}},
        grid: {drawOnChartArea: false, drawTicks: false},
        border: {display: false}
      }
    }
  }
});
</script>
</body></html>
